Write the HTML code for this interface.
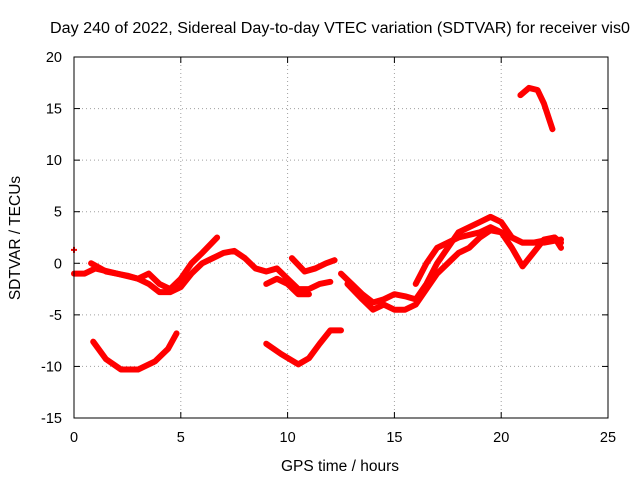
<!DOCTYPE html>
<html><head><meta charset="utf-8"><style>
body{margin:0;background:#fff}
svg{display:block;font-family:"Liberation Sans",sans-serif}
</style></head><body>
<svg id="chart" width="640" height="480" viewBox="0 0 640 480">
<rect width="640" height="480" fill="#fff"/>
<text x="340" y="33" font-size="15.5" text-anchor="middle" textLength="580" lengthAdjust="spacingAndGlyphs">Day 240 of 2022, Sidereal Day-to-day VTEC variation (SDTVAR) for receiver vis0</text>
<g id="grid"></g>
<g id="series"></g>
<rect x="74" y="57" width="534" height="361" fill="none" stroke="#000" stroke-width="1"/>
<g id="ticks"></g>
<text x="340" y="471" font-size="15.5" text-anchor="middle">GPS time / hours</text>
<text transform="translate(20,238) rotate(-90)" font-size="15.5" text-anchor="middle">SDTVAR / TECUs</text>
</svg>
<script>
const xTicks=[0,5,10,15,20,25];
const yTicks=[-15,-10,-5,0,5,10,15,20];
const trackTopRight=[[20.9,16.3],[21.3,17],[21.7,16.8],[22,15.5],[22.4,13]];
const trackLowArc=[[0.9,-7.6],[1.5,-9.3],[2.2,-10.3],[3,-10.3],[3.8,-9.5],[4.4,-8.3],[4.8,-6.8]];
const trackMidArc=[[9,-7.8],[9.7,-8.8],[10.5,-9.8],[11,-9.2],[11.5,-7.8],[12,-6.5],[12.5,-6.5]];
const trackBandA=[[0,-1],[0.5,-1],[1,-0.5],[2,-1],[3,-1.5],[3.5,-2],[4,-2.8],[4.5,-2.8],[5,-2.3],[5.5,-1],[6,0],[6.5,0.5],[7,1],[7.5,1.2],[8,0.5],[8.5,-0.5],[9,-0.8],[9.5,-0.5],[10,-1.5],[10.5,-2.5],[11,-2.5],[11.5,-2],[12,-1.8]];
const trackBandB=[[0.8,0],[1.5,-0.8],[2.5,-1.2],[3,-1.5],[3.5,-1],[4,-2],[4.5,-2.5],[5,-1.5],[5.5,0],[6,1],[6.7,2.5]];
const trackBandC=[[10.2,0.5],[10.8,-0.8],[11.3,-0.5],[11.8,0],[12.2,0.3]];
const trackBandD=[[9,-2],[9.5,-1.5],[10,-2],[10.5,-3],[11,-3]];
const trackBandE=[[12.5,-1],[13,-2],[13.5,-3],[14,-3.8],[14.5,-3.5],[15,-3],[15.5,-3.2],[16,-3.5],[16.5,-2],[17,0],[17.5,1.5],[18,3],[18.5,3.5],[19,4],[19.5,4.5],[20,4],[20.5,2.5],[21,2],[21.5,2],[22,2.2],[22.5,2.5],[22.8,2]];
const trackBandF=[[12.8,-2],[13.5,-3.5],[14,-4.5],[14.5,-4],[15,-4.5],[15.5,-4.5],[16,-4],[16.5,-2.5],[17,-1],[17.5,0],[18,1],[18.5,1.5],[19,2.5],[19.5,3.2],[20,3],[20.5,1.5],[21,-0.3],[21.5,1],[22,2.3],[22.5,2.5],[22.8,1.5]];
const trackBandG=[[16,-2],[16.5,0],[17,1.5],[18,2.5],[19,3],[19.5,3.5],[20,3],[20.5,2.5],[21,2],[22,2],[22.8,2.3]];
const trackPoint=[[0,1.3]];
const tracks=[trackTopRight,trackLowArc,trackMidArc,trackBandA,trackBandB,trackBandC,trackBandD,trackBandE,trackBandF,trackBandG,trackPoint];
const X=v=>74+v*(534/25);
const Y=v=>418-(v+15)*(361/35);
const NS="http://www.w3.org/2000/svg";
const g=document.getElementById('grid'),t=document.getElementById('ticks'),s=document.getElementById('series');
function mk(tag,attrs,parent){const e=document.createElementNS(NS,tag);for(const k in attrs)e.setAttribute(k,attrs[k]);parent.appendChild(e);return e;}
xTicks.forEach(v=>{
 if(v>0&&v<25){const l=mk('line',{x1:X(v),x2:X(v),y1:57,y2:418,stroke:'#a0a0a0','stroke-dasharray':'1,3'},g);
 
 }
 mk('line',{x1:X(v),x2:X(v),y1:418,y2:412,stroke:'#000'},t);
 mk('line',{x1:X(v),x2:X(v),y1:57,y2:63,stroke:'#000'},t);
 const tx=mk('text',{x:X(v),y:442,'font-size':14.5,'text-anchor':'middle'},t);tx.textContent=v;
 
 
});
yTicks.forEach(v=>{
 if(v>-15&&v<20){const l=mk('line',{x1:74,x2:608,y1:Y(v),y2:Y(v),stroke:'#a0a0a0','stroke-dasharray':'1,3'},g);
 
 }
 mk('line',{x1:74,x2:80,y1:Y(v),y2:Y(v),stroke:'#000'},t);
 mk('line',{x1:608,x2:602,y1:Y(v),y2:Y(v),stroke:'#000'},t);
 const tx=mk('text',{x:62,y:Y(v)+5,'font-size':14.5,'text-anchor':'end'},t);tx.textContent=v;
 
 
});
tracks.forEach(tr=>{
 if(tr.length>1){const p=mk('polyline',{points:tr.map(d=>X(d[0])+','+Y(d[1])).join(' '),fill:'none',stroke:'#ff0000','stroke-width':6,'stroke-linejoin':'round','stroke-linecap':'round'},s);
 
 }
 else{tr.forEach(d=>{const p=mk('path',{d:`M${X(d[0])-3},${Y(d[1])}h6M${X(d[0])},${Y(d[1])-3}v6`,stroke:'#ff0000','stroke-width':2},s);
 
 });}
});
</script>
</body></html>
